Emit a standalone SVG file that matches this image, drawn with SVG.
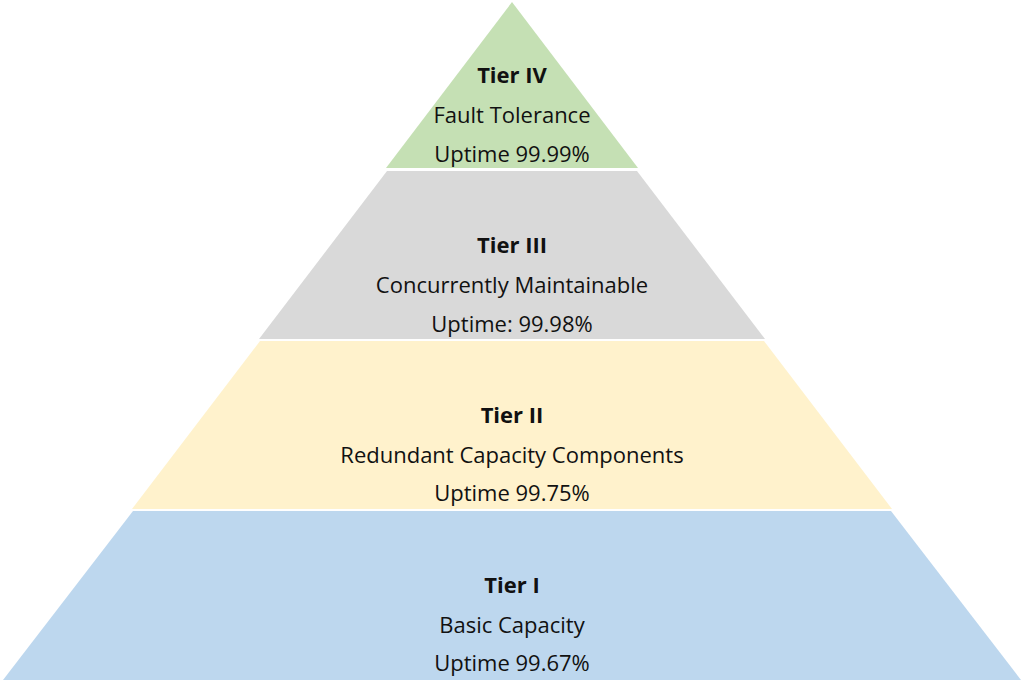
<svg xmlns="http://www.w3.org/2000/svg" width="1024" height="694" viewBox="0 0 1024 694">
<style>
text{font-family:"Open Sans","Noto Sans","Liberation Sans",sans-serif;font-size:22px;fill:#111;text-anchor:middle}
.b{font-weight:bold}
</style>
<rect width="1024" height="694" fill="#fff"/>
<g id="tier4">
<polygon points="512,2 638,168 386,168" fill="#C5E0B4"/>
<text class="b" x="512" y="83">Tier IV</text>
<text x="512" y="123">Fault Tolerance</text>
<text x="512" y="162">Uptime 99.99%</text>
</g>
<g id="tier3">
<polygon points="387,171 637,171 765,339 259,339" fill="#D9D9D9"/>
<text class="b" x="512" y="253">Tier III</text>
<text x="512" y="293">Concurrently Maintainable</text>
<text x="512" y="332">Uptime: 99.98%</text>
</g>
<g id="tier2">
<polygon points="260,341 764,341 892,509 132,509" fill="#FFF2CC"/>
<text class="b" x="512" y="423">Tier II</text>
<text x="512" y="463">Redundant Capacity Components</text>
<text x="512" y="501">Uptime 99.75%</text>
</g>
<g id="tier1">
<polygon points="133,511 891,511 1021,680 3,680" fill="#BDD7EE"/>
<text class="b" x="512" y="593">Tier I</text>
<text x="512" y="633">Basic Capacity</text>
<text x="512" y="671">Uptime 99.67%</text>
</g>
</svg>
